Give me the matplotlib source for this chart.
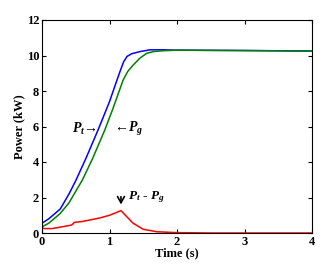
import numpy as np
import matplotlib
matplotlib.use("Agg")
import matplotlib.pyplot as plt

plt.rcParams['font.family'] = ['Liberation Serif', 'DejaVu Serif']
plt.rcParams['font.weight'] = 'bold'
plt.rcParams['mathtext.fontset'] = 'custom'
plt.rcParams['mathtext.it'] = 'Liberation Serif:italic:bold'
plt.rcParams['mathtext.rm'] = 'Liberation Serif:bold'

# Datos
t_pt = [0, 0.1, 0.27, 0.4, 0.5, 0.65, 0.83, 1.0, 1.1, 1.17, 1.21, 1.26, 1.33, 1.45, 1.6, 1.8, 2.0, 3.0, 4.0]
p_t = [0.55, 0.8, 1.35, 2.2, 2.95, 4.2, 5.8, 7.4, 8.5, 9.25, 9.65, 9.95, 10.1, 10.22, 10.32, 10.32, 10.3, 10.28, 10.25]

t_pg = [0, 0.1, 0.27, 0.4, 0.6, 0.75, 0.93, 1.05, 1.2, 1.27, 1.35, 1.45, 1.55, 1.65, 1.8, 2.0, 3.0, 4.0]
p_g = [0.35, 0.55, 1.1, 1.7, 3.0, 4.2, 5.8, 7.0, 8.6, 9.1, 9.46, 9.85, 10.12, 10.22, 10.27, 10.3, 10.28, 10.25]

t_diff = [0, 0.03, 0.15, 0.3, 0.44, 0.48, 0.6, 0.86, 1.0, 1.17, 1.35, 1.5, 1.7, 2.0, 2.5, 4.0]
p_diff = [0.3, 0.25, 0.25, 0.35, 0.45, 0.6, 0.65, 0.85, 1.0, 1.26, 0.55, 0.21, 0.07, 0.02, 0.0, 0.0]

fig = plt.figure(figsize=(3.3, 2.68), dpi=100)
ax = fig.add_axes([42/330, 35/268, 270/330, 213/268])

ax.plot(t_pt, p_t, color='blue', lw=1.1)
ax.plot(t_pg, p_g, color='green', lw=1.1)
ax.plot(t_diff, p_diff, color='red', lw=1.1)

ax.set_xlim(0, 4)
ax.set_ylim(0, 12)
ax.set_xticks([0, 1, 2, 3, 4])
ax.set_yticks([0, 2, 4, 6, 8, 10, 12])
ax.tick_params(direction='in', top=True, right=True, labelsize=9, length=3, pad=2)
for lab in ax.get_xticklabels() + ax.get_yticklabels():
    lab.set_fontweight('bold')
ax.set_xlabel('Time (s)', fontsize=9, fontweight='bold', labelpad=0)
ax.set_ylabel('Power (kW)', fontsize=9, fontweight='bold', labelpad=1)

ax.text(0.45, 5.85, r'$P_t\!\rightarrow$', fontsize=10, va='center')
ax.text(1.03, 5.85, r'$\leftarrow\!P_g$', fontsize=10, va='center')
ax.annotate('', xy=(1.17, 1.45), xytext=(1.17, 2.2),
            arrowprops=dict(arrowstyle='->, head_width=0.25, head_length=0.45',
                            color='black', lw=1.2))
ax.text(1.28, 2.0, r'$P_t$ - $P_g$', fontsize=9.5, va='center')

fig.savefig('out.png', dpi=100)
